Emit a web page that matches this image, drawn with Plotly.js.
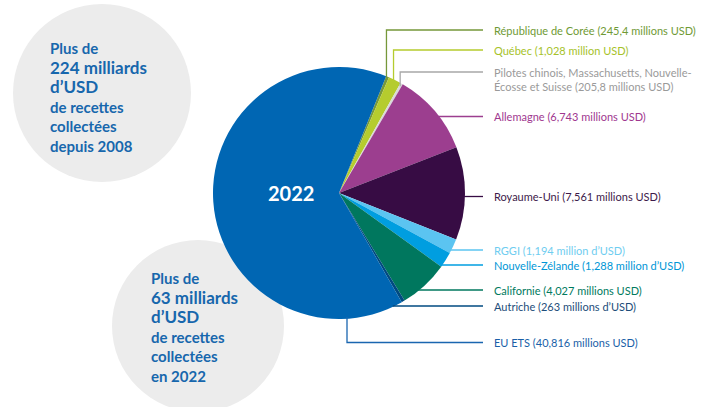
<!DOCTYPE html>
<html>
<head>
<meta charset="utf-8">
<script src="https://cdn.plot.ly/plotly-3.0.1.min.js"></script>
<style>
html,body{margin:0;padding:0;background:#fff;}
#chart{width:714px;height:407px;}
</style>
</head>
<body>
<div id="chart"></div>
<script>
// ---- data ----
const categories = ['République de Corée', 'Québec', 'Pilotes chinois, Massachusetts, Nouvelle-<br>Écosse et Suisse', 'Allemagne', 'Royaume-Uni', 'RGGI', 'Nouvelle-Zélande', 'Californie', 'Autriche', 'EU ETS'];
const values = [245.4, 1028, 205.8, 6743, 7561, 1194, 1288, 4027, 263, 40816];
const valueLabels = ['245,4 millions USD', '1,028 million USD', '205,8 millions USD', '6,743 millions USD', '7,561 millions USD', '1,194 million d’USD', '1,288 million d’USD', '4,027 millions USD', '263 millions d’USD', '40,816 millions USD'];
const sliceColors = ['#76983a', '#b5cc2e', '#d9d9d9', '#9c3e8f', '#370c44', '#5bc4f1', '#009ee0', '#00775e', '#004a80', '#0066b3'];
const labelColors = ['#6f9a35', '#a6c22a', '#9a9a9a', '#a0378f', '#3d1a4a', '#6fcdf0', '#0096d6', '#007a5e', '#1d4d7a', '#1a5fa8'];
const lineColors = ['#76983a', '#b5cc2e', '#a8a8a8', '#9c3e8f', '#370c44', '#5bc4f1', '#009ee0', '#00775e', '#004a80', '#1a66b0'];
const yearLabel = '2022';
const circle1Lines = ['Plus de', '224 milliards', 'd’USD', 'de recettes', 'collectées', 'depuis 2008'];
const circle2Lines = ['Plus de', '63 milliards', 'd’USD', 'de recettes', 'collectées', 'en 2022'];

// ---- layout geometry (pixels) ----
const W = 714, H = 407;
const cx = 339, cy = 193, R = 126;
const rotation = 22;
const labelY = [30, 50, 79, 116.5, 196.5, 250, 265, 290, 306, 342.5];
const lineEndX = 483, textX = 493;

const px = x => x / W;
const py = y => 1 - y / H;

const total = values.reduce((a, b) => a + b, 0);
const shapes = [];
const annotations = [];

// background circles
function circle(x, y, r) {
  shapes.push({type: 'circle', xref: 'paper', yref: 'paper', layer: 'below',
    x0: px(x - r), x1: px(x + r), y0: py(y + r), y1: py(y - r),
    fillcolor: '#ececec', line: {width: 0}});
}
circle(102, 93, 89);
circle(198, 326, 86);

function path(points, color) {
  let d = points.map((p, i) => (i ? 'L' : 'M') + px(p[0]) + ',' + py(p[1])).join(' ');
  shapes.push({type: 'path', xref: 'paper', yref: 'paper', path: d, line: {color: color, width: 1.3}});
}

// leader lines + labels
let acc = 0;
values.forEach((v, i) => {
  const a0 = rotation + acc / total * 360;
  acc += v;
  const a1 = rotation + acc / total * 360;
  const mid = (a0 + a1) / 2 * Math.PI / 180;
  const col = lineColors[i];
  const ly = labelY[i];
  if (i <= 2) {
    const x = cx + (R - 3) * Math.sin(mid);
    const y = cy - (R - 3) * Math.cos(mid);
    const topY = i === 2 ? ly - 7 : ly;
    path([[x, y], [x, topY], [lineEndX, topY]], col);
  } else if (i <= 8) {
    const x = cx + Math.sqrt(Math.max(0, R * R - (ly - cy) * (ly - cy))) - 2;
    path([[x, ly], [lineEndX, ly]], col);
  } else {
    const x = cx + 8;
    path([[x, cy + R - 2], [x, ly], [lineEndX, ly]], col);
  }
  annotations.push({xref: 'paper', yref: 'paper', x: px(textX), y: py(ly), xanchor: 'left', yanchor: 'middle',
    align: 'left', showarrow: false, borderpad: 0,
    text: categories[i] + ' (' + valueLabels[i] + ')',
    font: {family: 'Lato, sans-serif', size: 11, color: labelColors[i]}});
});

// year label
annotations.push({xref: 'paper', yref: 'paper', x: px(291), y: py(193), xanchor: 'center', yanchor: 'middle',
  showarrow: false, text: '<b>' + yearLabel + '</b>', font: {family: 'Lato, sans-serif', size: 20, color: '#ffffff'}});

// circle texts (one annotation per circle)
function circleText(lines, x, yc) {
  const txt = lines.map((t, i) => (i === 1 || i === 2)
    ? '<b><span style="font-size:17px">' + t + '</span></b>'
    : '<b>' + t + '</b>').join('<br>');
  annotations.push({xref: 'paper', yref: 'paper', x: px(x), y: py(yc), xanchor: 'left', yanchor: 'middle',
    align: 'left', showarrow: false, borderpad: 0, text: txt,
    font: {family: 'Lato, sans-serif', size: 15, color: '#1767ad'}});
}
circleText(circle1Lines, 49, 97);
circleText(circle2Lines, 150, 327);

const trace = {
  type: 'pie',
  labels: categories,
  values: values,
  sort: false,
  direction: 'clockwise',
  rotation: rotation,
  marker: {colors: sliceColors, line: {width: 0}},
  textinfo: 'none',
  hoverinfo: 'none',
  showlegend: false,
  domain: {x: [px(cx - R), px(cx + R)], y: [py(cy + R), py(cy - R)]}
};

Plotly.newPlot('chart', [trace], {
  width: W, height: H,
  margin: {l: 0, r: 0, t: 0, b: 0},
  paper_bgcolor: '#ffffff',
  showlegend: false,
  shapes: shapes,
  annotations: annotations
}, {staticPlot: true});
</script>
</body>
</html>
